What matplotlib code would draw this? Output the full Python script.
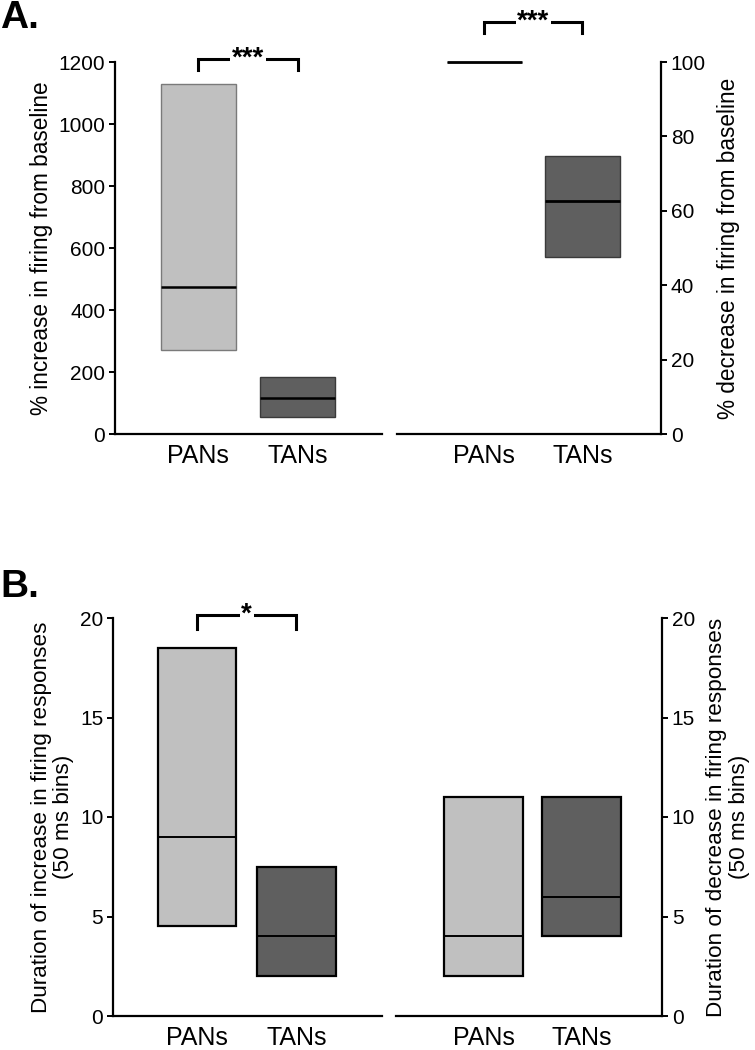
import matplotlib
matplotlib.use("Agg")
import matplotlib.pyplot as plt

plt.rcParams["font.family"] = ["Liberation Sans", "DejaVu Sans"]

groups = ["PANs", "TANs"]
colors = ["#c0c0c0", "#5f5f5f"]

# A: % change in firing (q1, median, q3)
inc_q1 = [270, 55]
inc_med = [473, 117]
inc_q3 = [1128, 185]
dec_q1 = [100, 47.5]
dec_med = [100, 62.7]
dec_q3 = [100, 74.7]

# B: response duration in 50 ms bins
dinc_q1 = [4.5, 2.0]
dinc_med = [9.0, 4.0]
dinc_q3 = [18.5, 7.5]
ddec_q1 = [2.0, 4.0]
ddec_med = [4.0, 6.0]
ddec_q3 = [11.0, 11.0]

W, H = 755, 1050
fig = plt.figure(figsize=(W / 100, H / 100), dpi=100)


def px_axes(x0, x1, y0, y1):
    return fig.add_axes([x0 / W, 1 - y1 / H, (x1 - x0) / W, (y1 - y0) / H])


def boxes(ax, q1, med, q3, width, edge, lw, mlw):
    x = [1, 2]
    for i in range(2):
        ax.bar(x[i], q3[i] - q1[i], bottom=q1[i], width=width, color=colors[i],
               edgecolor=edge[i], linewidth=lw, zorder=2)
        ax.plot([x[i] - width / 2, x[i] + width / 2], [med[i], med[i]], color="black",
                lw=mlw, zorder=3, clip_on=False, solid_capstyle="butt")


def style(ax, side, ylim, yticks, xlim):
    ax.set_xlim(*xlim)
    ax.set_ylim(*ylim)
    ax.set_yticks(yticks)
    ax.set_xticks([1, 2])
    ax.set_xticklabels(groups, fontsize=18)
    for s in ["top", "left", "right"]:
        ax.spines[s].set_visible(False)
    ax.spines[side].set_visible(True)
    for s in ["bottom", side]:
        ax.spines[s].set_linewidth(1.6)
    ax.tick_params(axis="x", length=0, pad=7)
    ax.tick_params(axis="y", labelsize=15, width=1.4, length=4, pad=3)
    if side == "right":
        ax.yaxis.tick_right()
        ax.yaxis.set_label_position("right")


def bracket(ax, x0, x1, ytop, ybot, label, fs):
    ax.plot([x0, x0, x1, x1], [ybot, ytop, ytop, ybot], color="black", lw=2.2,
            clip_on=False, solid_joinstyle="miter", zorder=4)
    ax.text((x0 + x1) / 2, ytop, label, ha="center", va="center", fontsize=fs,
            fontweight="bold", zorder=5,
            bbox=dict(facecolor="white", edgecolor="none", pad=1.0))


# ---- A ----
axA1 = px_axes(115, 382, 62, 434)
boxes(axA1, inc_q1, inc_med, inc_q3, 0.75, ["#7a7a7a", "#3a3a3a"], 1.0, 1.8)
style(axA1, "left", (0, 1200), range(0, 1201, 200), (0.16, 2.85))
axA1.set_ylabel("% increase in firing from baseline", fontsize=16.3, labelpad=4)
bracket(axA1, 1, 2, 1210, 1173, "***", 20)

axA2 = px_axes(397, 661, 62, 434)
boxes(axA2, dec_q1, dec_med, dec_q3, 0.77, ["#7a7a7a", "#3a3a3a"], 1.0, 2.0)
style(axA2, "right", (0, 100), range(0, 101, 20), (0.11, 2.8))
axA2.set_ylabel("% decrease in firing from baseline", fontsize=16.3, labelpad=8)
bracket(axA2, 1, 2, 110.8, 107.8, "***", 20)

# ---- B ----
axB1 = px_axes(113, 382, 618, 1016)
boxes(axB1, dinc_q1, dinc_med, dinc_q3, 0.79, ["black", "black"], 1.6, 1.4)
style(axB1, "left", (0, 20), range(0, 21, 5), (0.155, 2.86))
axB1.set_ylabel("Duration of increase in firing responses\n(50 ms bins)",
                fontsize=16.2, labelpad=4, linespacing=1.1)
bracket(axB1, 1, 2, 20.15, 19.45, "*", 20)

axB2 = px_axes(396, 662, 618, 1016)
boxes(axB2, ddec_q1, ddec_med, ddec_q3, 0.8, ["black", "black"], 1.6, 1.4)
style(axB2, "right", (0, 20), range(0, 21, 5), (0.107, 2.82))
axB2.set_ylabel("Duration of decrease in firing responses\n(50 ms bins)",
                fontsize=16.2, labelpad=8, linespacing=1.1)

fig.text(0.0, 1 - 28 / H, "A.", fontsize=28, fontweight="bold", ha="left", va="baseline")
fig.text(0.0, 1 - 597 / H, "B.", fontsize=28, fontweight="bold", ha="left", va="baseline")

fig.savefig("out.png", dpi=100)
